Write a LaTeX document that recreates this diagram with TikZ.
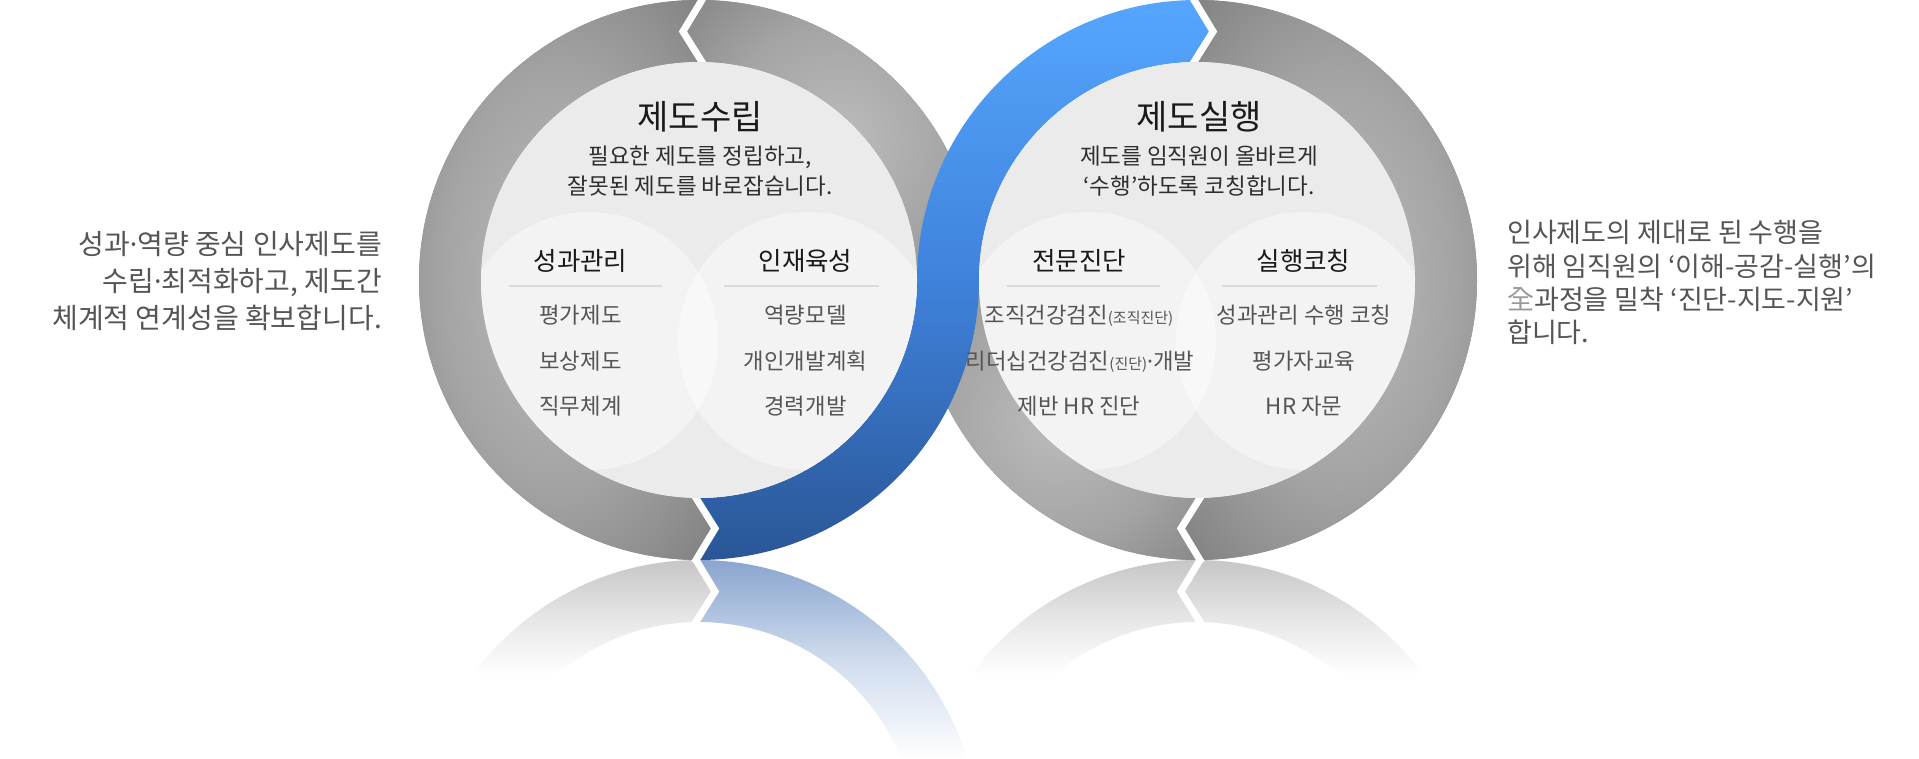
\documentclass[tikz,border=0pt]{standalone}
\usepackage{fontspec}
\setmainfont{Noto Sans CJK KR}
\newfontfamily\latf{Noto Sans}
\definecolor{gA}{HTML}{BCBCBC}
\definecolor{gB}{HTML}{A4A4A4}
\definecolor{gC}{HTML}{858585}
\pgfdeclareradialshading{ringshade}{\pgfpoint{0bp}{0bp}}{color(0bp)=(gA); color(14bp)=(gB); color(25bp)=(gC); color(50bp)=(gC)}
\definecolor{blueTop}{HTML}{55A6FF}
\definecolor{blueMid}{HTML}{3F82DB}
\definecolor{blueBot}{HTML}{2A5696}
\definecolor{discC}{HTML}{EBEBEB}
\definecolor{smallC}{HTML}{F3F3F3}
\definecolor{lensC}{HTML}{F8F8F8}
\definecolor{sepC}{HTML}{DADADA}
\definecolor{titleC}{HTML}{1A1A1A}
\definecolor{subC}{HTML}{2E2E2E}
\definecolor{itemC}{HTML}{555555}
\definecolor{sideC}{HTML}{555555}
\definecolor{hanjaC}{HTML}{9A9A9A}
\definecolor{rgTop}{HTML}{C6C6C6}
\definecolor{rgMid}{HTML}{E6E6E6}
\definecolor{rbTop}{HTML}{8AA5CF}
\definecolor{rbMid}{HTML}{D0DCEE}
% ring segment outlines (centres 699,479 and 1197,479)
\def\pLL{([shift={(89.4:280)}]699,479) arc[start angle=89.4,end angle=269.4,radius=280] -- ([shift={(273.7:249)}]699,479) -- ([shift={(269.2:218)}]699,479) arc[start angle=269.2,end angle=89.2,radius=218] -- ([shift={(93.7:249)}]699,479) -- cycle}
\def\pLQ{([shift={(89.4:280)}]699,479) arc[start angle=89.4,end angle=0,radius=280] -- ([shift={(0:218)}]699,479) arc[start angle=0,end angle=89.2,radius=218] -- ([shift={(93.7:249)}]699,479) -- cycle}
\def\pRQ{([shift={(180:218)}]1197,479) arc[start angle=180,end angle=270.8,radius=218] -- ([shift={(266.3:249)}]1197,479) -- ([shift={(270.6:280)}]1197,479) arc[start angle=270.6,end angle=180,radius=280] -- cycle}
\def\pRR{([shift={(90.6:280)}]1197,479) arc[start angle=90.6,end angle=-89.4,radius=280] -- ([shift={(266.3:249)}]1197,479) -- ([shift={(-89.2:218)}]1197,479) arc[start angle=-89.2,end angle=90.8,radius=218] -- ([shift={(86.3:249)}]1197,479) -- cycle}
\def\pB{([shift={(269.4:280)}]699,479) arc[start angle=269.4,end angle=360,radius=280] arc[start angle=180,end angle=90.8,radius=218] -- ([shift={(86.3:249)}]1197,479) -- ([shift={(90.6:280)}]1197,479) arc[start angle=90.6,end angle=180,radius=280] arc[start angle=360,end angle=269.2,radius=218] -- ([shift={(273.7:249)}]699,479) -- cycle}
\tikzset{
  gap/.style={white, line width=7, line cap=rect, line join=miter},
  sepline/.style={sepC, line width=1.2},
  ttl/.style={anchor=base, inner sep=0, text=titleC, font=\fontsize{34}{34}\selectfont},
  subt/.style={anchor=base, inner sep=0, text=subC, font=\fontsize{22.5}{22.5}\selectfont},
  hd/.style={anchor=base, inner sep=0, text=titleC, font=\fontsize{25.5}{25.5}\selectfont},
  itm/.style={anchor=base, inner sep=0, text=itemC, font=\fontsize{22.3}{22.3}\selectfont},
  sidel/.style={anchor=base east, inner sep=0, text=sideC, font=\fontsize{28}{28}\selectfont},
  sider/.style={anchor=base west, inner sep=0, text=sideC, font=\fontsize{27}{27}\selectfont},
}
\newcommand\smallp[1]{{\fontsize{15}{15}\selectfont #1}}
\newcommand\mdot{{\latf ·}}
\begin{document}
\begin{tikzpicture}[x=1pt,y=1pt]
\useasboundingbox (0,0) rectangle (1919,759);
\fill[white] (0,0) rectangle (1919,759);

% ---------- reflection ----------
\begin{scope}[shift={(0,398)}, yscale=-1]
  \begin{scope}\clip \pLL; \shade[top color=rgTop, bottom color=white, middle color=rgMid] (380,199) rectangle (1000,314); \end{scope}
  \begin{scope}\clip \pRR; \shade[top color=rgTop, bottom color=white, middle color=rgMid] (1150,199) rectangle (1500,314); \end{scope}
  \begin{scope}\clip \pRQ; \shade[top color=rgTop, bottom color=white, middle color=rgMid] (880,199) rectangle (1250,314); \end{scope}
  \begin{scope}\clip \pB; \shade[top color=rbTop, bottom color=white, middle color=rbMid] (650,199) rectangle (1100,400); \end{scope}
  \draw[gap] ([shift={(269.4:280)}]699,479) -- ([shift={(273.7:249)}]699,479) -- ([shift={(269.2:218)}]699,479);
  \draw[gap] ([shift={(270.6:280)}]1197,479) -- ([shift={(266.3:249)}]1197,479) -- ([shift={(270.8:218)}]1197,479);
\end{scope}

% ---------- gray ring segments ----------
\begin{scope}\clip \pLL; \fill[gC] (380,150) rectangle (1000,800); \shade[shading=ringshade] (559,479) ellipse (210 and 360); \end{scope}
\begin{scope}\clip \pLQ; \fill[gC] (600,400) rectangle (1000,800); \shade[shading=ringshade] (839,619) circle (210); \end{scope}
\begin{scope}\clip \pRQ; \fill[gC] (880,150) rectangle (1250,500); \shade[shading=ringshade] (1057,339) circle (210); \end{scope}
\begin{scope}\clip \pRR; \fill[gC] (1150,150) rectangle (1500,800); \shade[shading=ringshade] (1337,479) ellipse (210 and 360); \end{scope}
% ---------- blue band ----------
\begin{scope}\clip \pB; \shade[top color=blueTop, bottom color=blueBot, middle color=blueMid] (660,199) rectangle (1240,759); \end{scope}
% ---------- gaps ----------
\draw[gap] ([shift={(89.4:280)}]699,479) -- ([shift={(93.7:249)}]699,479) -- ([shift={(89.2:218)}]699,479);
\draw[gap] ([shift={(269.4:280)}]699,479) -- ([shift={(273.7:249)}]699,479) -- ([shift={(269.2:218)}]699,479);
\draw[gap] ([shift={(90.6:280)}]1197,479) -- ([shift={(86.3:249)}]1197,479) -- ([shift={(90.8:218)}]1197,479);
\draw[gap] ([shift={(270.6:280)}]1197,479) -- ([shift={(266.3:249)}]1197,479) -- ([shift={(270.8:218)}]1197,479);

% ---------- discs ----------
\fill[discC] (699,479) circle (218);
\begin{scope}
  \clip (699,479) circle (218);
  \fill[smallC] (589,418) circle (129);
  \fill[smallC] (807,418) circle (129);
  \clip (589,418) circle (129);
  \fill[lensC] (807,418) circle (129);
\end{scope}
\fill[discC] (1197,479) circle (218);
\begin{scope}
  \clip (1197,479) circle (218);
  \fill[smallC] (1087,418) circle (129);
  \fill[smallC] (1305,418) circle (129);
  \clip (1087,418) circle (129);
  \fill[lensC] (1305,418) circle (129);
\end{scope}
\draw[sepline] (509,473) -- (662,473);
\draw[sepline] (724,473) -- (879,473);
\draw[sepline] (1007,473) -- (1160,473);
\draw[sepline] (1222,473) -- (1377,473);

% ---------- left disc text ----------
\node[ttl] (lt) at (700,629.8) {제도수립};
\node[subt] (ls1) at (700,594.9) {필요한 제도를 정립하고,};
\node[subt] (ls2) at (700,564.9) {잘못된 제도를 바로잡습니다.};
\node[hd] (lh1) at (580.5,488.8) {성과관리};
\node[hd] (lh2) at (805.5,488.8) {인재육성};
\node[itm] (la1) at (580.5,435) {평가제도};
\node[itm] (la2) at (580.5,389) {보상제도};
\node[itm] (la3) at (580.5,344) {직무체계};
\node[itm] (lb1) at (805.5,435) {역량모델};
\node[itm] (lb2) at (805.5,389) {개인개발계획};
\node[itm] (lb3) at (805.5,344) {경력개발};

% ---------- right disc text ----------
\node[ttl] (rt) at (1199,629.8) {제도실행};
\node[subt] (rs1) at (1199,594.9) {제도를 임직원이 올바르게};
\node[subt] (rs2) at (1199,564.9) {‘수행’하도록 코칭합니다.};
\node[hd] (rh1) at (1079,488.8) {전문진단};
\node[hd] (rh2) at (1303.5,488.8) {실행코칭};
\node[itm] (ra1) at (1079,435) {조직건강검진\smallp{(조직진단)}};
\node[itm] (ra2) at (1080,389) {리더십건강검진\smallp{(진단)}\mdot 개발};
\node[itm] (ra3) at (1079,344) {제반 HR 진단};
\node[itm] (rb1) at (1304,435) {성과관리 수행 코칭};
\node[itm] (rb2) at (1304,389) {평가자교육};
\node[itm] (rb3) at (1304,344) {HR 자문};

% ---------- side texts ----------
\node[sidel] (sl1) at (382,504.9) {성과\mdot 역량 중심 인사제도를};
\node[sidel] (sl2) at (382,467.9) {수립\mdot 최적화하고, 제도간};
\node[sidel] (sl3) at (382,430.9) {체계적 연계성을 확보합니다.};
\node[sider] (sr1) at (1507,516.3) {인사제도의 제대로 된 수행을};
\node[sider] (sr2) at (1507,482.8) {위해 임직원의 ‘이해-공감-실행’의};
\node[sider] (sr3) at (1507,449.3) {{\color{hanjaC}全}과정을 밀착 ‘진단-지도-지원’};
\node[sider] (sr4) at (1507,416.3) {합니다.};
\end{tikzpicture}
\end{document}
